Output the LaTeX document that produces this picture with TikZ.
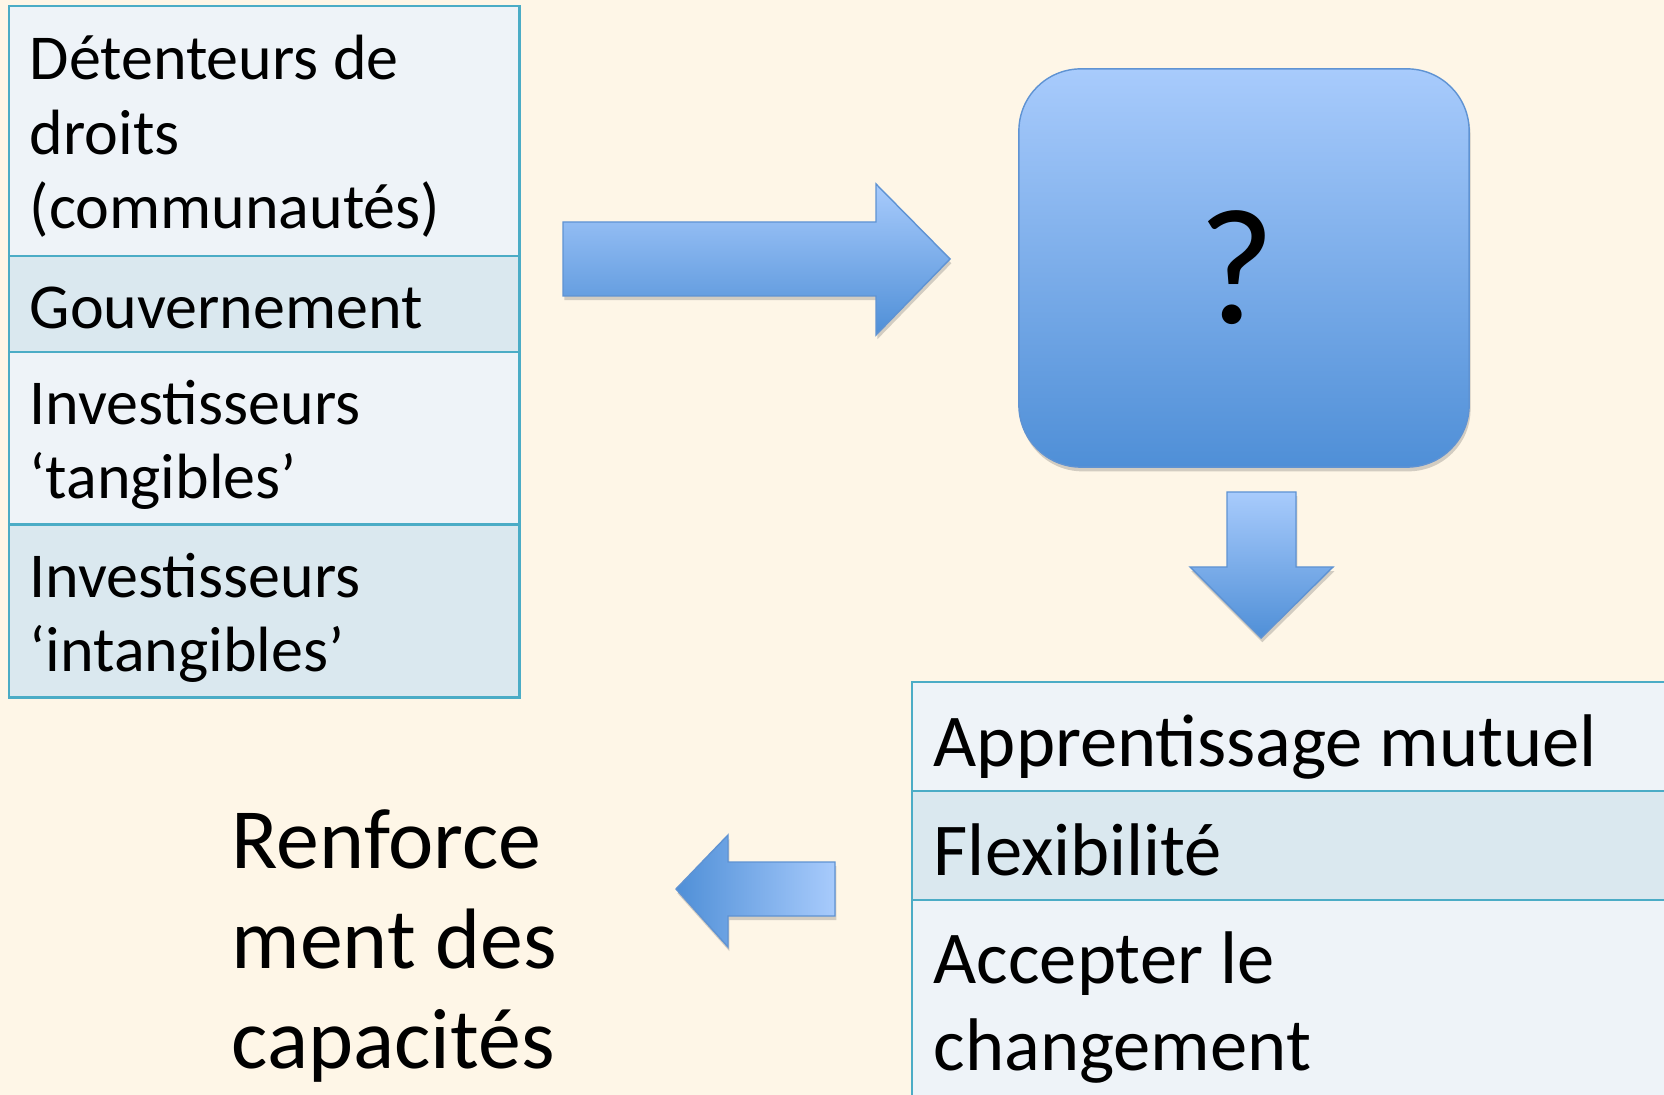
\documentclass[tikz,border=0pt]{standalone}
\usepackage{fontspec}
\setmainfont{Carlito}
\usetikzlibrary{positioning}
\usetikzlibrary{shadows}

\definecolor{bgcream}{HTML}{FEF6E7}
\definecolor{rowlight}{HTML}{EEF3F8}
\definecolor{rowdark}{HTML}{DAE8EF}
\definecolor{tableline}{HTML}{4BACC6}
\definecolor{bluelight}{HTML}{A8CBFC}
\definecolor{bluedark}{HTML}{4F8FD7}
\definecolor{blueedge}{HTML}{5F93D3}
\definecolor{shadowgrey}{HTML}{D2CCC1}

\tikzset{
  row/.style={draw=tableline, line width=0.7pt, inner sep=0pt, outer sep=0pt, anchor=north west},
  lbl/.style={anchor=base west, inner sep=0pt, align=left, font=\fontsize{18.2}{21.3}\selectfont},
  biglbl/.style={anchor=base west, inner sep=0pt, align=left, font=\fontsize{21.2}{24.5}\selectfont},
  flat/.style={drop shadow={shadow xshift=0.4pt, shadow yshift=-1.2pt, fill=shadowgrey, opacity=1}},
  blockarrow/.style={flat, draw=blueedge, line width=0.4pt, top color=bluelight, bottom color=bluedark}
}

\begin{document}
\begin{tikzpicture}[x=0.01cm, y=-0.01cm]
    \useasboundingbox (0,0) rectangle (1664,1095);
    \clip (0,0) rectangle (1664,1095);
    \fill[bgcream] (0,0) rectangle (1664,1095);

    % Left table
    \node[row, fill=rowlight, minimum width=5.1cm, minimum height=2.5cm] (r1) at (9,6) {};
    \node[row, fill=rowdark, minimum width=5.1cm, minimum height=0.96cm, below=0pt of r1] (r2) {};
    \node[row, fill=rowlight, minimum width=5.1cm, minimum height=1.72cm, below=0pt of r2] (r3) {};
    \node[row, fill=rowdark, minimum width=5.1cm, minimum height=1.73cm, below=0pt of r3] (r4) {};

    % (base = last line)
    \node[lbl] (detenteurs) at (29,229) {Détenteurs de\\droits\\(communautés)};
    \node[lbl] (gouv) at (29,329) {Gouvernement};
    \node[lbl] (tang) at (29,499) {Investisseurs\\‘tangibles’};
    \node[lbl] (intang) at (29,672) {Investisseurs\\‘intangibles’};

    % Arrow to the box
    \draw[blockarrow] (563,222) -- (876,222) -- (876,184) -- (950,259)
        -- (876,335) -- (876,296) -- (563,296) -- cycle;

    % Question box
    \node[flat, draw=blueedge, line width=0.4pt, top color=bluelight, bottom color=bluedark,
        rounded corners=0.62cm, minimum width=4.5cm, minimum height=3.98cm,
        font=\fontsize{47}{56}\selectfont] (qbox) at (1244,268) {\hspace*{-0.14cm}?};

    % Arrow down
    \draw[blockarrow] (1227,492) -- (1296,492) -- (1296,567) -- (1333,567)
        -- (1261,638) -- (1190,567) -- (1227,567) -- cycle;

    % Right table
    \node[row, fill=rowlight, minimum width=8cm, minimum height=1.09cm] (s1) at (912,682) {};
    \node[row, fill=rowdark, minimum width=8cm, minimum height=1.09cm, below=0pt of s1] (s2) {};
    \node[row, fill=rowlight, minimum width=8cm, minimum height=2.6cm, below=0pt of s2] (s3) {};

    \node[biglbl] (mutuel) at (933,767) {Apprentissage mutuel};
    \node[biglbl] (flex) at (933,875) {Flexibilité};
    \node[biglbl] (changement) at (933,1070) {Accepter le\\changement};

    % Arrow back
    \draw[blockarrow, top color=bluedark, bottom color=bluedark, left color=bluedark, right color=bluelight]
        (835,862) -- (835,916) -- (728,916) -- (728,947) -- (676,889)
        -- (728,835) -- (728,862) -- cycle;

    \node[anchor=base west, inner sep=0pt, align=left, font=\fontsize{24.4}{28.4}\selectfont]
        (renfo) at (231,1068) {Renforce\\ment des\\capacités};
\end{tikzpicture}
\end{document}
